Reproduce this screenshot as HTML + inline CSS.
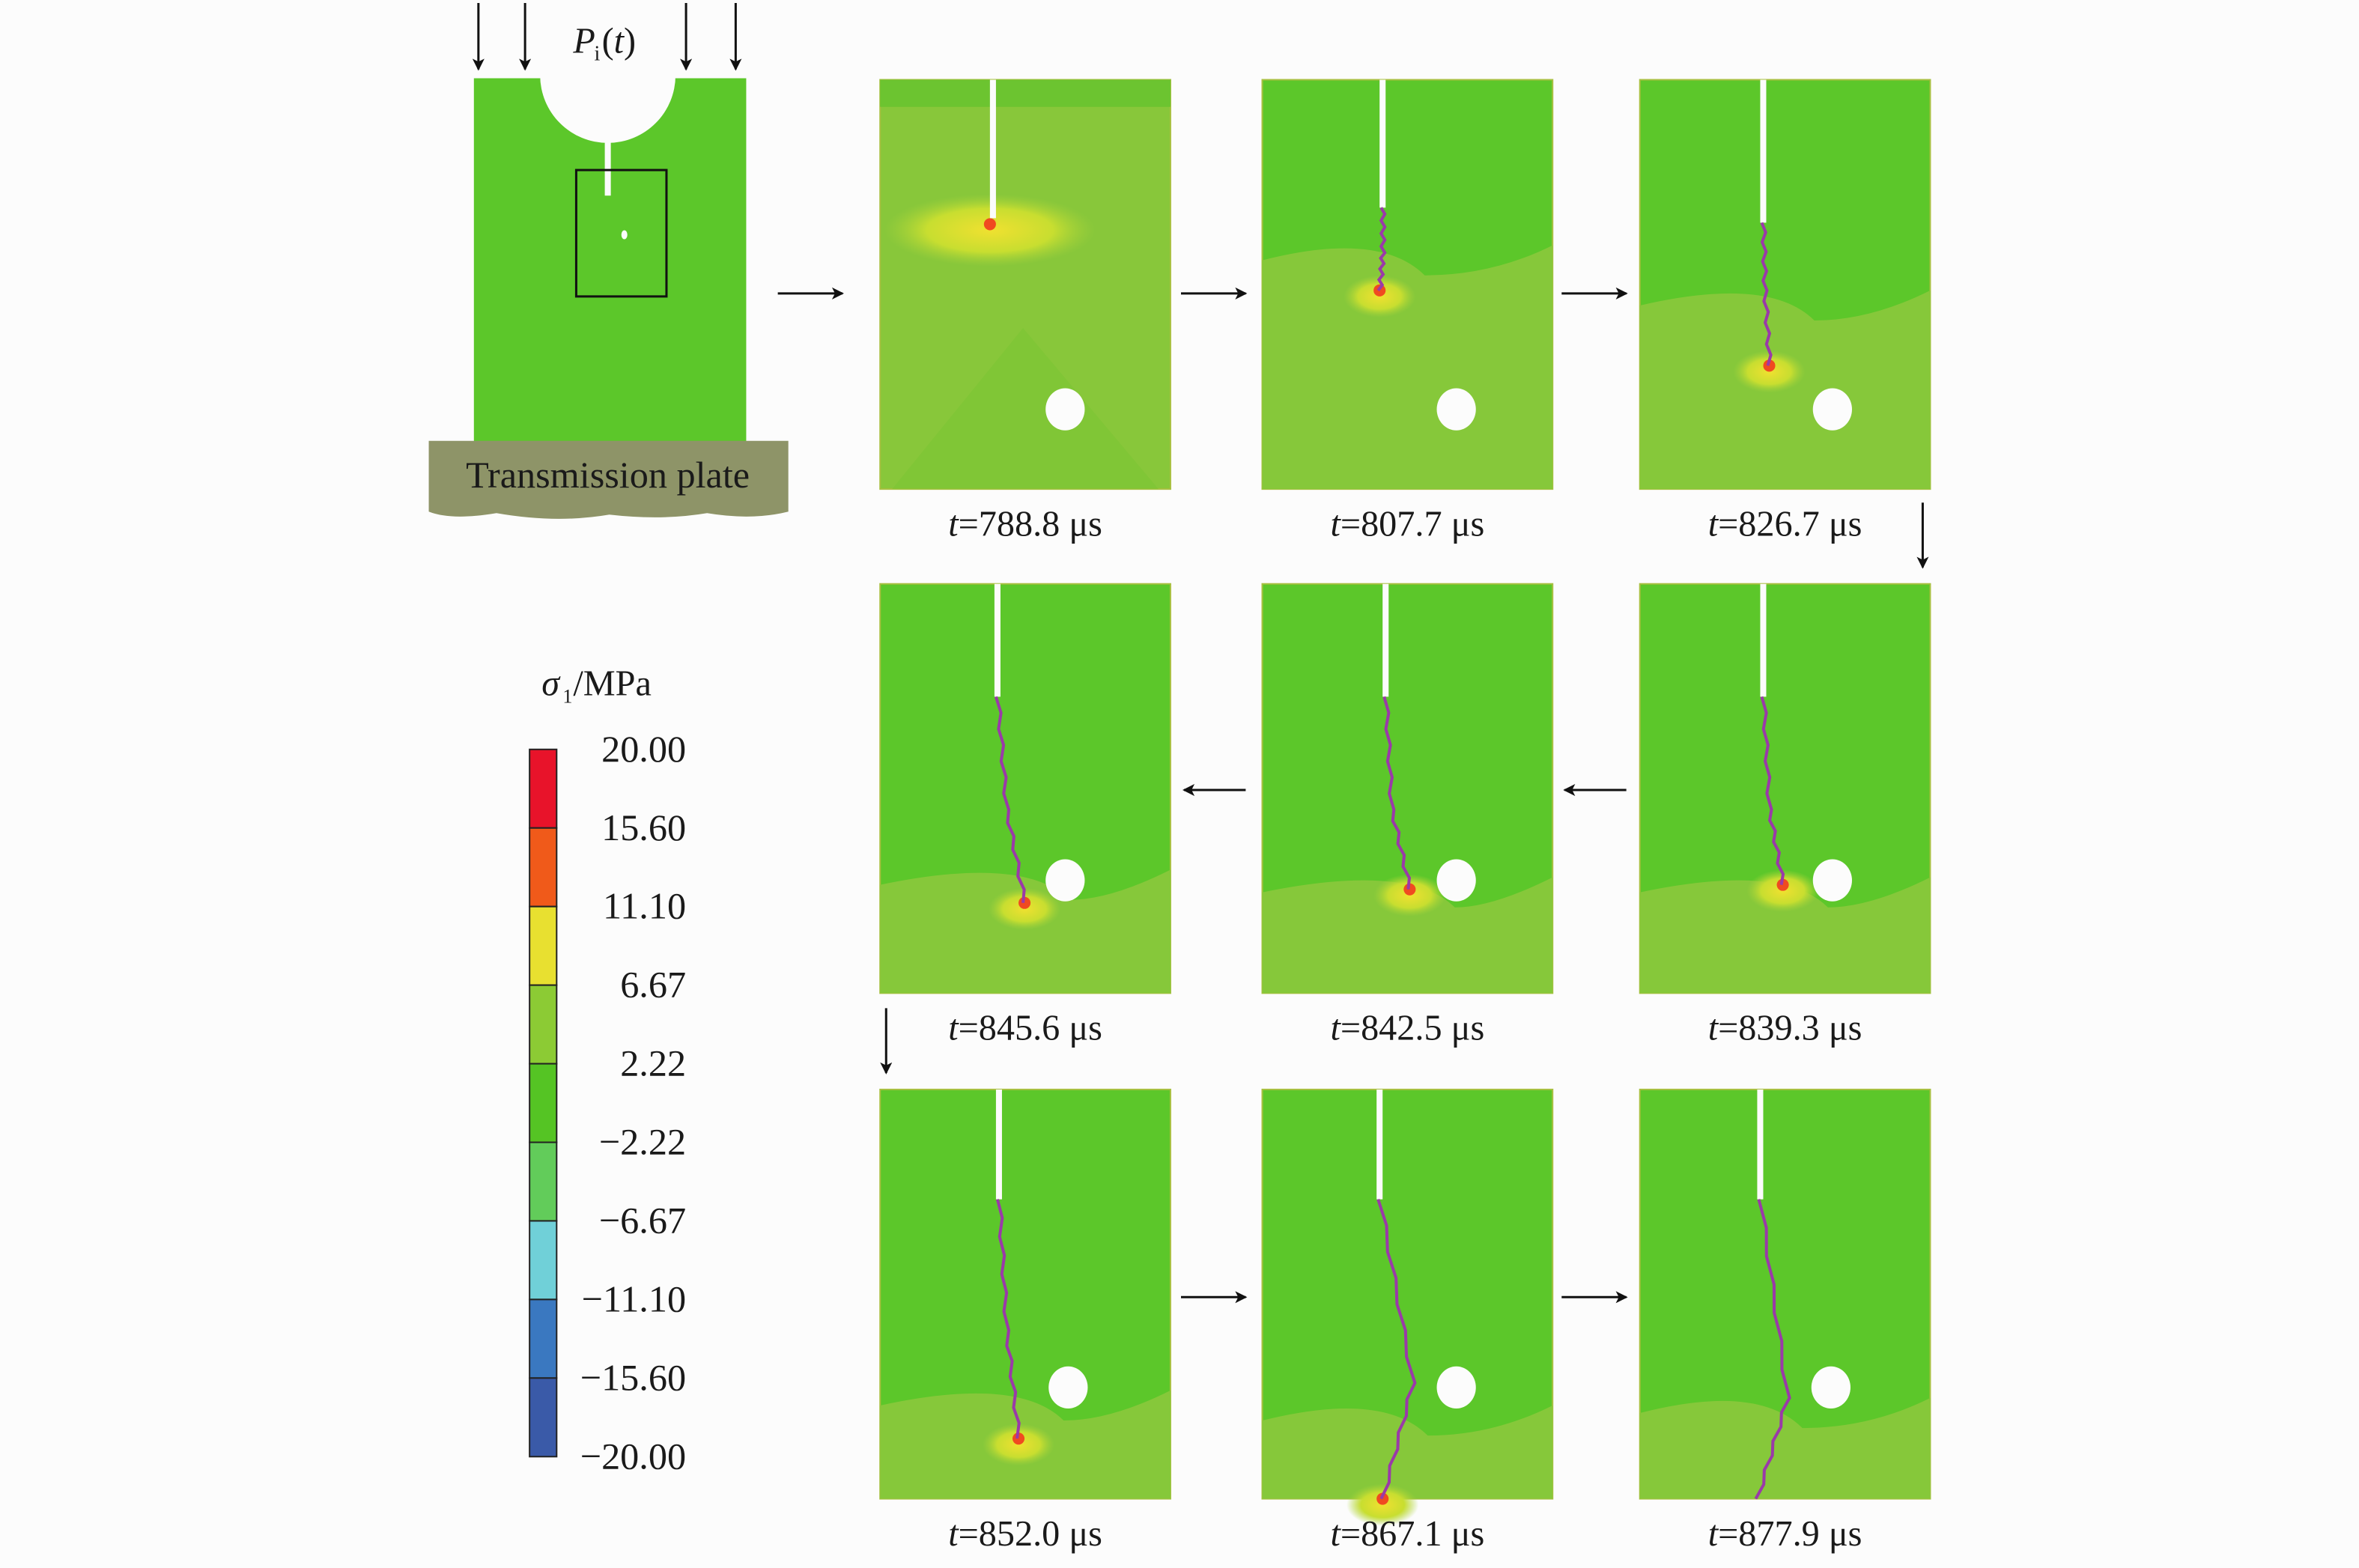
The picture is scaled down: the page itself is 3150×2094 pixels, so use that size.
<!DOCTYPE html>
<html><head><meta charset="utf-8"><style>
html,body{margin:0;padding:0;background:#fcfcfc;}
svg{display:block;}
text{font-family:"Liberation Serif",serif;fill:#1a1a1a;}
</style></head><body>
<svg id="fig" width="3150" height="2094" viewBox="0 0 1568 1042" preserveAspectRatio="none" xmlns="http://www.w3.org/2000/svg">
<defs>
<marker id="ah" markerWidth="8" markerHeight="8" refX="7" refY="4" orient="auto" markerUnits="userSpaceOnUse"><path d="M0,0 L8,4 L0,8 L2,4 Z" fill="#111"/></marker>
<radialGradient id="glow"><stop offset="0" stop-color="#f0e030"/><stop offset="0.6" stop-color="#c8de30"/><stop offset="1" stop-color="#a6d23a" stop-opacity="0"/></radialGradient>
</defs>
<g id="schematic">
  <line x1="318" y1="2" x2="318" y2="46" stroke="#111" stroke-width="1.5" marker-end="url(#ah)"/>
  <line x1="349" y1="2" x2="349" y2="46" stroke="#111" stroke-width="1.5" marker-end="url(#ah)"/>
  <line x1="456" y1="2" x2="456" y2="46" stroke="#111" stroke-width="1.5" marker-end="url(#ah)"/>
  <line x1="489" y1="2" x2="489" y2="46" stroke="#111" stroke-width="1.5" marker-end="url(#ah)"/>
  <rect x="315" y="52" width="181" height="250" fill="#5cc72a"/>
  <circle cx="404" cy="50" r="45" fill="#fcfcfc"/>
  <rect x="402" y="94" width="4" height="36" fill="#fcfcfc"/>
  <ellipse cx="415" cy="156" rx="2" ry="3" fill="#fcfcfc"/>
  <rect x="383" y="113" width="60" height="84" fill="none" stroke="#111" stroke-width="1.5"/>
  <path d="M285,293 L524,293 L524,340 Q500,346 470,341 Q440,346 405,342 Q370,348 330,341 Q300,346 285,340 Z" fill="#8e9468"/>
  <text x="404" y="324" font-size="25" text-anchor="middle">Transmission plate</text>
  <text x="381" y="35" font-size="24" font-style="italic">P</text>
  <text x="395" y="40" font-size="14">i</text>
  <text x="400" y="35" font-size="24">(<tspan font-style="italic">t</tspan>)</text>
</g>
<g id="legend">
  <text x="360" y="462" font-size="24" font-style="italic">σ</text>
  <text x="374" y="467" font-size="13">1</text>
  <text x="381" y="462" font-size="24">/MPa</text>
</g>
<g id="panels"></g>
<g id="flow-arrows">
  <line x1="517" y1="195" x2="560" y2="195" stroke="#111" stroke-width="1.5" marker-end="url(#ah)"/>
  <line x1="785" y1="195" x2="828" y2="195" stroke="#111" stroke-width="1.5" marker-end="url(#ah)"/>
  <line x1="1038" y1="195" x2="1081" y2="195" stroke="#111" stroke-width="1.5" marker-end="url(#ah)"/>
  <line x1="1278" y1="334" x2="1278" y2="377" stroke="#111" stroke-width="1.5" marker-end="url(#ah)"/>
  <line x1="1081" y1="525" x2="1040" y2="525" stroke="#111" stroke-width="1.5" marker-end="url(#ah)"/>
  <line x1="828" y1="525" x2="787" y2="525" stroke="#111" stroke-width="1.5" marker-end="url(#ah)"/>
  <line x1="589" y1="670" x2="589" y2="713" stroke="#111" stroke-width="1.5" marker-end="url(#ah)"/>
  <line x1="785" y1="862" x2="828" y2="862" stroke="#111" stroke-width="1.5" marker-end="url(#ah)"/>
  <line x1="1038" y1="862" x2="1081" y2="862" stroke="#111" stroke-width="1.5" marker-end="url(#ah)"/>
</g>
</svg>
<script>
const NS="http://www.w3.org/2000/svg";
const legendTicks=["20.00","15.60","11.10","6.67","2.22","\u22122.22","\u22126.67","\u221211.10","\u221215.60","\u221220.00"];
const legendColors=["#e8132a","#f05a1a","#e8e030","#8ccb34","#55c424","#62cc5a","#70d0d8","#3a78c0","#3a5aa8"];
const times=["788.8","807.7","826.7","845.6","842.5","839.3","852.0","867.1","877.9"];
const notchX=[75,80,82,78,82,82,79,78,80];
const notchLen=[92,85,95,75,75,75,73,73,73];
const midX=[73,80,83,84,86,86,84,100,98];
const midY=[96,115,140,150,150,150,160,195,205];
const tipX=[73,78,86,96,98,95,92,80,78];
const tipY=[96,140,190,212,203,200,232,272,272];
const lightTop=[0,120,150,200,205,205,210,220,215];
const holeX=[123,129,128,123,129,128,125,129,127];
const holeY=[219,219,219,197,197,197,198,198,198];
const glowOn=[1,1,1,1,1,1,1,1,0];

function el(tag,attrs,parent){const e=document.createElementNS(NS,tag);for(const k in attrs)e.setAttribute(k,attrs[k]);parent.appendChild(e);return e;}

const lg=document.getElementById('legend');
const barTop=498,barH=470,segH=barH/legendColors.length;
legendColors.forEach((c,i)=>{
  const r=el('rect',{x:352,y:barTop+i*segH,width:18,height:segH,fill:c,stroke:"#222","stroke-width":1},lg);
  
  
});
legendTicks.forEach((t,i)=>{
  const tx=el('text',{x:456,y:barTop+i*(barH/(legendTicks.length-1))+8,"font-size":25,"text-anchor":"end"},lg);
  tx.textContent=t;
  
  
});

const colX=[585,839,1090],rowY=[53,388,724];
const order=[[0,0],[1,0],[2,0],[0,1],[1,1],[2,1],[0,2],[1,2],[2,2]];
const W=193,H=272;
const pg=document.getElementById('panels');
times.forEach((t,i)=>{
  const px=colX[order[i][0]],py=rowY[order[i][1]];
  const NX=notchX[i];
  const g=el('g',{transform:`translate(${px},${py})`},pg);
  
  
  el('rect',{x:0,y:0,width:W,height:H,fill:i===0?"#88c73a":"#5cc72a",stroke:"#a8c040","stroke-width":1},g);
  if(i===0){
    el('path',{d:`M8,${H} L95,165 L185,${H} Z`,fill:"#7cc434",opacity:0.6},g);
    el('rect',{x:0,y:0,width:W,height:18,fill:"#6cc430"},g);
  }else{
    el('path',{d:`M0,${lightTop[i]} Q${tipX[i]},${lightTop[i]-20} ${tipX[i]+30},${lightTop[i]+10} Q${W-40},${lightTop[i]+10} ${W},${lightTop[i]-10} L${W},${H} L0,${H} Z`,fill:"#86c83a"},g);
  }
  if(glowOn[i]){
    const gw=i===0?70:24;
    el('ellipse',{cx:tipX[i],cy:tipY[i]+4,rx:gw,ry:i===0?24:14,fill:"url(#glow)"},g);
    el('circle',{cx:tipX[i],cy:tipY[i],r:4,fill:"#f04a20"},g);
  }
  el('rect',{x:NX-2,y:0,width:4,height:notchLen[i],fill:"#fcfcfc"},g);
  if(tipY[i]>notchLen[i]+5){
    const n=14,pts=[];
    for(let k=0;k<=n;k++){
      const f=k/n;
      let x,y;
      if(f<0.5){const u=f*2;x=NX+(midX[i]-NX)*u;y=notchLen[i]+(midY[i]-notchLen[i])*u;}
      else{const u=(f-0.5)*2;x=midX[i]+(tipX[i]-midX[i])*u;y=midY[i]+(tipY[i]-midY[i])*u;}
      pts.push(`${x+(k%2?1.5:-1)},${y}`);
    }
    const cr=el('polyline',{points:pts.join(' '),fill:"none",stroke:"#9a3aa8","stroke-width":2},g);
    
    
  }
  const h=el('ellipse',{cx:holeX[i],cy:holeY[i],rx:13,ry:14,fill:"#fcfcfc"},g);
  
  
  const lab=el('text',{x:W/2,y:H+31,"font-size":24,"text-anchor":"middle"},g);
  lab.innerHTML=`<tspan font-style="italic">t</tspan>=${t} μs`;
  
  
});
</script>
</body></html>
